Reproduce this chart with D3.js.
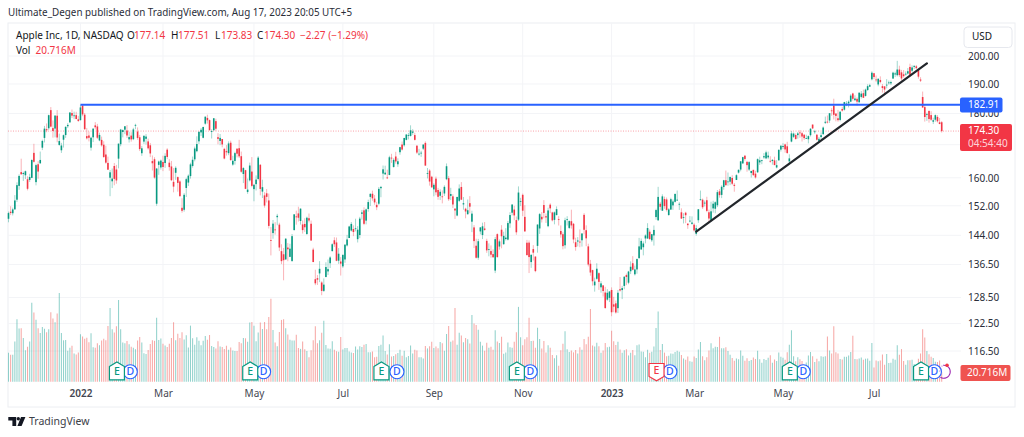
<!DOCTYPE html>
<html><head><meta charset="utf-8">
<style>html,body{margin:0;padding:0;background:#fff}svg{display:block}text{font-family:"Noto Sans",sans-serif}</style>
<script src="https://cdn.jsdelivr.net/npm/d3@7/dist/d3.min.js"></script></head><body>
<svg id="c" width="1024" height="437"></svg>
<script>
// One line per calendar month: Nov-2021 (from the 12th) ... Aug-2023 (to the 17th)
const opens=[
148.43,150.37,149.94,151.00,153.71,157.65,161.68,161.12,160.75,159.57,159.37,159.99,
167.48,158.74,164.02,164.29,169.08,172.13,174.91,175.21,181.12,175.25,175.11,179.28,169.93,168.28,171.56,173.04,175.85,177.09,180.16,179.33,179.47,178.09,
177.83,182.63,179.61,172.70,172.89,169.08,172.32,176.12,175.78,171.34,171.51,170.00,166.98,164.42,160.02,158.98,163.50,162.45,165.71,170.16,
174.01,174.75,174.48,171.68,172.86,171.73,176.05,174.14,172.33,167.37,170.97,171.85,171.03,169.82,164.98,165.54,152.58,163.84,163.06,
164.70,164.39,168.47,164.49,163.36,158.82,161.48,160.20,158.93,151.45,150.90,157.05,158.61,160.51,163.51,165.51,167.99,171.06,173.88,172.17,176.69,178.55,177.84,
174.03,174.57,177.50,172.36,171.16,171.78,168.71,168.02,167.39,170.62,163.92,165.02,168.76,168.91,166.46,161.12,162.25,155.91,159.25,161.84,
156.71,158.15,159.67,163.85,156.01,154.93,155.52,153.50,142.77,144.59,145.55,148.86,146.85,139.88,139.09,137.79,140.81,138.43,137.39,145.39,149.07,
149.90,147.83,146.90,147.03,144.35,148.58,147.08,140.28,132.87,133.13,134.29,132.08,130.07,133.42,134.79,136.82,139.90,142.70,142.13,137.46,137.25,
136.04,137.77,141.35,143.29,145.26,145.67,145.76,142.99,144.08,149.78,150.74,147.92,151.12,154.50,155.39,154.01,152.26,152.58,156.98,161.24,
161.01,160.10,160.84,166.01,163.21,166.37,164.02,167.68,170.06,169.82,171.52,172.78,172.77,173.75,173.03,169.69,167.08,167.32,168.78,170.57,161.15,162.13,160.31,
156.64,159.75,156.47,154.82,154.64,155.47,159.59,159.90,154.79,154.65,151.21,149.31,153.40,157.34,152.38,151.19,149.66,152.74,147.64,146.10,141.28,
138.21,145.03,144.07,145.81,142.54,140.42,139.90,139.13,134.99,144.31,141.07,145.49,141.69,143.02,142.87,147.19,150.09,150.96,148.07,148.20,153.16,
155.08,148.95,142.06,142.09,137.11,140.41,138.50,141.24,145.82,148.97,152.22,149.13,146.43,152.31,150.16,148.13,149.45,148.31,145.14,144.29,141.40,
148.21,145.96,147.77,147.07,142.19,142.36,142.34,142.70,149.50,145.35,141.11,136.69,135.11,131.39,132.98,134.35,130.92,131.38,129.67,127.99,128.41,
130.28,126.89,127.13,126.01,130.47,130.26,131.25,133.88,132.03,134.83,136.82,134.08,135.28,138.12,140.31,140.89,143.17,143.16,144.96,142.70,
143.97,148.90,148.03,152.57,150.64,153.88,153.78,149.46,150.95,152.12,153.11,153.51,152.35,150.20,148.87,150.09,147.11,147.71,147.05,
146.83,144.38,148.04,153.79,153.70,152.81,153.56,150.21,147.81,151.28,151.19,152.16,156.08,155.07,157.32,159.30,158.83,158.86,159.94,157.97,159.37,161.53,162.44,
164.27,166.60,164.74,162.43,161.42,162.35,161.22,161.63,164.59,165.09,166.10,165.80,166.09,165.05,165.00,165.19,163.06,165.19,168.49,
169.28,170.09,169.50,164.89,170.98,172.48,173.05,173.02,173.85,173.62,173.16,171.99,171.71,173.00,176.39,173.98,173.13,171.09,172.41,173.32,176.96,177.33,
177.70,181.03,182.63,179.97,178.44,177.90,181.50,181.27,182.80,183.37,183.96,186.73,184.41,184.90,183.74,185.55,186.83,185.89,187.93,189.08,191.63,
193.78,191.57,189.84,191.41,189.26,189.16,189.68,190.50,190.23,191.90,193.35,193.10,195.09,194.10,193.41,193.33,193.67,196.02,194.67,196.06,
196.24,195.04,191.57,185.52,182.13,179.69,180.87,179.48,177.32,177.97,178.88,177.13,177.14];
const highs=[
150.40,151.88,151.49,155.00,158.67,161.02,165.70,161.80,162.14,160.45,161.19,165.52,
170.30,164.20,164.96,167.88,171.58,175.96,176.75,179.63,182.13,177.74,179.50,181.14,173.47,170.58,173.20,175.86,176.85,180.42,181.33,180.63,180.57,179.23,
182.88,182.94,180.17,175.30,174.14,172.50,175.18,177.18,176.62,173.78,172.54,171.08,169.68,166.33,162.30,162.76,164.39,163.84,170.35,175.00,
174.84,175.88,176.24,174.10,173.95,175.35,176.65,175.48,173.08,169.58,172.95,173.34,171.91,170.54,166.69,166.15,162.85,165.12,165.42,
166.60,167.36,168.91,165.55,165.02,162.88,163.41,160.39,159.28,154.12,155.57,160.00,161.00,164.48,166.35,169.42,172.64,174.14,175.28,175.73,179.01,179.61,178.03,
174.88,178.49,178.30,173.63,173.36,171.78,169.03,169.87,171.04,171.27,166.60,167.82,168.88,171.53,167.87,163.17,162.34,159.79,164.52,166.20,
158.23,160.71,166.48,164.08,159.44,155.83,156.74,155.45,146.20,148.10,147.52,149.77,147.36,141.66,140.70,143.26,141.97,141.79,144.34,149.68,150.66,
151.74,151.27,147.97,148.57,149.00,149.87,147.95,140.76,135.20,133.89,137.34,132.39,133.08,137.06,137.76,138.59,141.91,143.49,143.42,140.67,138.37,
139.04,141.61,144.12,146.55,147.55,146.64,148.45,146.45,148.95,150.86,151.57,151.23,153.72,155.57,156.28,155.04,153.09,157.33,157.64,163.63,
163.59,162.41,166.59,167.19,165.85,167.81,165.82,169.34,170.99,172.17,173.39,173.71,176.15,174.90,173.74,169.86,168.71,168.11,170.14,171.05,162.90,162.56,160.58,
158.42,160.36,157.09,156.67,156.36,157.82,164.26,160.54,157.10,155.24,151.35,154.56,158.08,158.74,154.47,151.47,153.77,154.72,150.64,146.72,143.10,
143.07,146.22,147.38,147.54,143.10,141.89,141.35,140.36,143.59,144.52,142.90,146.70,144.95,145.89,147.85,150.23,152.49,151.99,149.05,157.50,154.24,
155.45,152.17,142.80,142.67,139.15,141.43,138.55,146.87,150.01,150.28,153.59,149.87,151.48,152.70,150.37,150.42,151.83,149.13,146.64,144.81,148.72,
149.13,148.00,150.92,147.30,143.37,143.52,145.57,144.50,149.97,146.66,141.80,137.65,135.20,133.25,136.81,134.56,132.42,131.41,131.03,130.48,129.95,
130.90,128.66,127.77,130.29,133.41,131.26,133.51,134.26,134.92,137.29,138.61,136.25,138.02,143.32,143.16,142.43,144.25,147.23,145.55,144.34,
146.61,151.18,157.38,153.10,155.23,154.58,154.33,151.34,154.26,153.77,155.50,156.33,153.00,151.30,149.95,150.34,147.19,149.17,149.08,
147.23,146.71,151.11,156.30,154.03,153.47,154.54,150.94,153.14,153.40,153.25,156.46,156.74,157.82,159.40,162.14,161.55,160.34,160.77,158.49,161.05,162.47,165.00,
166.29,166.84,165.05,164.96,162.03,162.36,162.06,165.80,166.32,165.39,167.41,168.16,167.87,166.45,165.60,166.31,165.28,168.56,169.85,
170.45,170.35,170.92,167.04,174.30,173.85,173.54,174.03,174.59,174.06,173.21,173.14,172.93,175.24,176.39,174.71,173.38,172.42,173.90,175.77,178.99,179.35,
180.12,181.78,184.95,180.12,181.21,180.84,182.23,183.89,184.15,184.39,186.52,186.99,186.10,185.41,187.05,187.56,188.05,188.39,189.90,190.07,194.48,
193.88,192.98,192.02,192.67,189.99,189.30,191.70,191.19,191.18,194.32,194.33,198.23,196.47,194.97,194.91,194.44,195.64,197.20,196.63,196.49,
196.73,195.18,192.37,187.38,183.13,180.27,180.93,180.75,178.62,179.69,179.48,178.54,177.51];
const lows=[
147.48,149.43,149.34,150.99,153.05,156.53,161.00,159.06,159.64,156.36,158.79,159.92,
164.53,157.80,159.72,164.28,168.34,170.70,173.92,174.69,175.53,172.21,172.31,170.75,169.69,167.46,169.12,172.15,175.27,177.07,178.53,178.14,178.09,177.26,
177.71,179.12,174.64,171.64,171.03,168.17,170.82,174.82,171.79,171.09,169.41,165.94,164.18,162.30,154.70,157.02,157.82,158.28,162.80,169.51,
172.31,173.33,172.12,170.68,170.95,171.43,174.90,171.55,168.04,166.56,170.25,170.05,168.47,166.19,162.15,159.75,152.00,160.87,162.43,
161.97,162.95,165.55,162.10,159.04,155.80,159.41,155.98,154.50,150.10,150.38,154.46,157.63,159.76,163.01,164.91,167.65,170.21,172.75,172.00,176.34,176.70,174.40,
171.94,174.44,174.42,170.13,169.85,169.20,165.50,166.64,166.77,165.04,163.57,163.91,166.10,165.91,161.50,158.46,156.72,155.38,158.93,157.25,
153.27,156.32,159.26,154.95,154.18,151.49,152.93,145.81,138.80,143.11,144.18,146.68,139.90,136.60,132.61,137.65,137.33,138.34,137.14,145.26,146.84,
147.68,146.86,144.46,144.90,144.10,147.46,142.53,137.06,131.44,131.48,132.16,129.04,129.81,133.32,133.91,135.63,139.77,140.97,137.32,136.67,133.77,
135.66,136.93,141.08,143.28,145.00,143.78,145.05,142.12,143.25,148.20,146.70,146.91,150.37,151.94,153.41,152.28,150.80,152.16,154.41,159.50,
160.89,159.63,160.75,164.43,163.00,164.20,163.25,166.90,168.19,169.40,171.35,171.66,172.57,173.12,171.31,167.14,166.65,166.25,168.35,163.56,159.82,157.72,157.14,
154.67,154.97,153.69,153.61,152.68,154.75,159.30,153.37,153.61,151.38,148.37,149.10,153.08,153.60,150.91,148.56,149.64,149.95,144.84,140.68,138.00,
137.69,144.26,143.01,145.22,139.45,138.57,138.22,138.16,134.37,138.19,140.27,140.61,141.50,142.65,142.65,146.00,149.36,148.04,144.13,147.82,151.92,
149.13,145.00,138.75,134.38,135.67,137.49,134.59,139.50,144.37,147.43,148.56,147.29,146.15,149.97,147.72,146.93,149.34,146.61,143.38,140.35,140.55,
146.61,145.65,145.77,141.92,140.00,141.10,140.90,141.06,144.24,141.16,136.03,133.73,131.32,129.89,132.75,130.30,129.64,128.72,125.87,127.73,127.43,
124.17,125.08,124.76,124.89,129.89,128.12,130.46,131.44,131.66,134.13,135.03,133.77,134.22,137.90,140.30,138.81,141.90,143.08,142.85,142.28,
141.32,148.17,147.83,150.78,150.64,151.17,150.42,149.22,150.92,150.86,152.88,153.35,150.85,148.41,147.16,147.24,145.72,147.45,146.83,
145.01,143.90,147.33,153.46,151.13,151.83,150.23,147.61,147.70,150.10,149.92,151.64,154.28,154.15,156.54,157.81,157.68,157.85,157.87,155.98,159.35,161.27,161.91,
164.22,165.11,161.80,162.00,160.08,160.51,159.78,161.42,163.82,164.03,165.65,165.54,165.56,164.49,163.89,163.73,162.80,165.19,167.88,
168.64,167.54,167.16,164.31,170.76,172.11,171.60,171.90,172.17,171.00,171.47,171.80,170.42,172.58,174.94,173.45,171.28,170.52,171.69,173.11,176.57,176.76,
176.93,179.26,178.04,177.43,177.32,177.46,180.63,180.97,182.44,182.02,183.78,184.27,184.41,182.59,183.67,185.01,185.23,185.67,187.60,188.94,191.26,
191.76,190.62,189.20,190.24,187.04,186.60,188.47,189.78,189.63,191.81,192.42,192.65,192.50,191.23,192.25,192.92,193.32,192.55,194.14,195.26,
195.28,191.85,190.69,181.92,177.35,177.58,177.01,177.60,176.55,177.31,177.05,176.50,173.83];
const closes=[
149.99,150.00,151.00,153.49,157.87,160.55,161.02,161.41,161.94,156.81,160.24,165.30,
164.77,163.76,161.84,165.32,171.18,175.08,174.56,179.45,175.74,174.33,179.30,172.26,171.14,169.75,172.99,175.64,176.28,180.33,179.29,179.38,178.20,177.57,
182.01,179.70,174.92,172.00,172.17,172.19,175.08,175.53,172.19,173.07,169.80,166.23,164.51,162.41,161.62,159.78,159.69,159.22,170.33,174.78,
174.61,175.84,172.90,172.39,171.66,174.83,176.28,172.12,168.64,168.88,172.79,172.55,168.88,167.30,164.32,160.07,162.74,164.85,165.12,
163.20,166.56,166.23,163.17,159.30,157.44,162.95,158.52,154.73,150.62,155.09,159.59,160.62,163.98,165.38,168.82,170.21,174.07,174.72,175.60,178.96,177.77,174.61,
174.31,178.44,175.06,171.83,172.14,170.09,165.75,167.66,170.40,165.29,165.07,167.40,167.23,166.42,161.79,162.88,156.80,156.57,163.64,157.65,
157.96,159.48,166.02,156.77,157.28,152.06,154.51,146.50,142.56,147.11,145.54,149.24,140.82,137.35,137.59,143.11,140.36,140.52,143.78,149.64,148.84,
148.71,151.21,145.38,146.14,148.71,147.96,142.64,137.13,131.88,132.76,135.43,130.06,131.56,135.87,135.35,138.27,141.66,141.66,137.44,139.23,136.72,
138.93,141.56,142.92,146.35,147.04,144.87,145.86,145.49,148.47,150.17,147.07,151.00,153.04,155.35,154.09,152.95,151.60,156.79,157.35,162.51,
161.51,160.01,166.13,165.81,165.35,164.87,164.92,169.24,168.49,172.10,173.19,173.03,174.55,174.15,171.52,167.57,167.23,167.53,170.03,163.62,161.38,158.91,157.22,
157.96,155.81,154.53,155.96,154.46,157.37,163.43,153.84,155.31,152.37,150.70,154.48,156.90,153.72,152.74,150.43,150.77,151.76,149.84,142.48,138.20,
142.45,146.10,146.40,145.43,140.09,140.42,138.98,138.34,142.99,138.38,142.41,143.75,143.86,143.39,147.27,149.45,152.34,149.35,144.80,155.74,153.34,
150.65,145.03,138.88,138.38,138.92,139.50,134.87,146.87,149.70,148.28,150.04,148.79,150.72,151.29,148.01,150.18,151.07,148.11,144.22,141.17,148.03,
148.31,147.81,146.63,142.91,140.94,142.65,142.16,144.49,145.47,143.21,136.50,134.51,132.37,132.30,135.45,132.23,131.86,130.03,126.04,129.61,129.93,
125.07,126.36,125.02,129.62,130.15,130.73,133.49,133.41,134.76,135.94,135.21,135.27,137.87,141.11,142.53,141.86,143.96,145.93,143.00,144.29,
145.43,150.82,154.50,151.73,154.65,151.92,150.87,151.01,153.85,153.20,155.33,153.71,152.55,148.48,148.91,149.40,146.71,147.92,147.41,
145.31,145.91,151.03,153.83,151.60,152.87,150.59,148.50,150.47,152.59,152.99,155.85,155.00,157.40,159.28,157.83,158.93,160.25,158.28,157.65,160.77,162.36,164.90,
166.17,165.63,163.76,164.66,162.03,160.80,160.10,165.56,165.21,165.23,166.47,167.63,166.65,165.02,165.33,163.77,163.76,168.41,169.68,
169.59,168.54,167.45,165.79,173.57,173.50,171.77,173.56,173.75,172.57,172.07,172.07,172.69,175.05,175.16,174.20,171.56,171.84,172.99,175.43,177.30,177.25,
180.09,180.95,179.58,179.21,177.82,180.57,180.96,183.79,183.31,183.95,186.01,184.92,185.01,183.96,187.00,186.68,185.27,188.06,189.25,189.59,193.97,
192.46,191.33,191.81,190.68,188.61,188.08,189.77,190.54,190.69,193.99,193.73,195.10,193.13,191.94,192.75,193.62,194.50,193.22,195.83,196.45,
195.61,192.58,191.17,181.99,178.85,179.80,178.19,177.97,177.79,179.46,177.45,176.57,174.30];
const volumes=[
63.8,59.2,59.3,88.8,137.8,117.3,117.5,96.0,69.5,76.9,88.7,174.0,
152.4,136.7,118.0,107.5,120.4,116.9,108.9,115.4,153.2,139.4,131.1,150.2,195.4,107.5,91.2,92.1,68.4,74.9,79.1,62.3,59.8,64.1,
104.5,99.3,94.5,96.9,86.7,106.8,76.1,74.8,84.5,80.4,90.9,94.8,91.4,122.8,162.3,115.8,108.3,121.9,179.9,115.5,
86.2,84.9,89.4,82.5,77.2,74.8,71.3,90.9,98.7,86.2,62.5,61.2,69.6,82.8,91.2,90.0,141.1,91.9,95.1,
83.5,79.7,76.7,83.8,96.4,131.1,91.5,105.6,96.0,108.7,92.9,102.3,75.6,123.5,95.8,81.5,98.1,90.1,80.5,90.4,100.6,92.6,103.0,
78.8,76.5,73.4,89.1,77.6,76.6,72.2,79.3,70.6,75.3,69.0,67.7,67.9,87.2,84.9,96.0,95.6,88.1,130.2,131.7,
123.1,88.9,108.3,130.5,116.1,131.6,115.4,142.7,182.6,113.8,86.6,78.3,109.7,136.1,137.4,117.7,104.1,92.5,90.6,90.9,103.7,
74.3,72.3,88.6,71.6,67.8,53.9,69.5,91.4,122.2,84.8,91.5,108.1,134.5,81.0,73.4,72.4,89.1,70.2,67.1,66.2,98.7,
71.1,74.0,74.2,66.3,64.5,63.1,77.6,71.2,78.1,76.3,81.4,82.9,64.8,65.1,66.7,53.6,55.1,78.6,81.4,101.8,
67.8,59.9,82.5,55.5,56.7,60.4,63.1,70.2,57.1,68.0,54.1,56.4,79.5,62.3,70.3,69.0,54.1,53.8,51.2,78.9,73.3,77.9,87.9,
74.2,77.6,73.7,87.4,84.9,68.0,104.9,122.7,87.9,90.5,162.3,81.5,107.7,101.7,86.7,96.0,93.3,84.4,146.7,128.1,124.9,
114.3,87.8,79.5,68.4,85.9,74.9,77.0,70.4,113.2,88.6,85.3,99.1,61.8,64.5,86.5,75.9,74.7,88.2,109.2,164.8,97.9,
80.4,93.6,97.9,140.7,89.9,90.0,74.9,118.9,93.9,73.4,89.9,64.2,80.4,74.8,58.7,51.8,58.3,35.2,69.2,83.8,111.4,
71.3,65.4,68.8,64.7,69.7,62.1,76.1,70.5,93.9,82.3,98.9,160.2,79.6,77.4,85.9,77.9,63.8,69.0,85.4,75.7,77.0,
112.1,89.1,80.8,87.8,70.8,63.9,69.5,71.4,57.8,63.6,69.7,58.3,80.2,81.8,66.4,65.8,54.1,70.6,64.0,65.9,
77.7,118.3,154.4,69.9,83.3,64.1,56.0,57.4,62.2,61.7,65.7,68.2,66.0,58.9,51.0,48.4,55.5,44.9,44.2,
55.5,52.2,70.7,87.6,56.2,47.2,53.8,68.6,84.5,73.7,77.2,76.3,98.9,73.6,73.9,75.7,67.6,59.2,52.4,45.9,51.3,49.5,68.7,
56.9,46.3,51.5,45.4,47.7,53.1,50.1,68.4,49.4,41.5,49.9,47.7,52.5,58.3,41.9,48.7,45.5,64.6,55.2,
52.5,48.4,65.1,81.2,113.3,55.9,45.3,53.7,49.5,45.5,37.3,42.1,57.9,65.5,55.8,43.6,50.7,45.1,56.1,54.8,55.9,99.6,
68.9,61.9,121.9,64.8,61.9,50.2,48.9,54.8,54.9,57.5,65.4,101.2,49.8,49.5,51.2,53.1,48.1,50.7,51.2,46.3,85.1,
31.5,46.9,45.1,46.8,59.9,37.3,60.8,41.3,41.6,50.5,48.4,80.5,59.6,71.9,45.4,37.3,47.5,47.5,48.3,38.8,
35.2,50.4,62.0,115.8,97.6,67.8,60.4,54.7,52.0,43.7,43.5,46.9,20.716];

const priceGrid=[200,190,180,170,160,152,144,136.5,128.5,122.5,116.5];
const priceLabels=[200,190,180,160,152,144,136.5,128.5,122.5,116.5];
const monthIndex=[34,73,116,158,201,243,285,324,366,409];
const monthLabels=["2022","Mar","May","Jul","Sep","Nov","2023","Mar","May","Jul"];
const earningsIndex=[51,114,176,240,306,369,431];
const earningsBeat=[1,1,1,1,0,1,1];
const dividendIndex=[57,120,183,246,312,375,437];
const resistancePrice=182.91, resistanceStart=34;
const trendIndex=[325,434], trendPrice=[145.0,197.3];
const lastPrice=174.30, countdown="04:54:40", lastVol="20.716M";

const TEAL="#089981",RED="#f23645",BLUE="#2962ff";
const svg=d3.select("#c");
const x=d3.scaleLinear().domain([0,441]).range([8.5,941.7]);
const y=d3.scaleLog().domain([116.5,200]).range([351,56]);
const v=d3.scaleLinear().domain([0,195.4]).range([381.7,293]);
const idx=d3.range(closes.length);
const up=i=>closes[i]>=opens[i];
const pL=8,pR=961,pT=23,pB=382,fR=1015,fB=407;

// frame
svg.append("rect").attr("x",8).attr("y",23).attr("width",fR-8).attr("height",fB-23).attr("fill","none").attr("stroke","#eceef2").attr("stroke-width",1);
// grid
svg.append("g").selectAll("line").data(priceGrid).join("line").attr("x1",pL).attr("x2",pR).attr("y1",d=>y(d)).attr("y2",d=>y(d)).attr("stroke","#f3f4f7");
svg.append("g").selectAll("line").data(monthIndex).join("line").attr("x1",d=>x(d)).attr("x2",d=>x(d)).attr("y1",pT).attr("y2",pB).attr("stroke","#f3f4f7");
// volume
svg.append("g").selectAll("line").data(idx).join("line")
 .attr("x1",i=>x(i)).attr("x2",i=>x(i)).attr("y1",i=>v(volumes[i])).attr("y2",v(0))
 .attr("stroke",i=>up(i)?"#26a69a":"#ef5350").attr("stroke-opacity",.5).attr("stroke-width",1.05);
// last price dotted
svg.append("line").attr("x1",pL).attr("x2",pR).attr("y1",y(lastPrice)).attr("y2",y(lastPrice)).attr("stroke",RED).attr("stroke-opacity",.6).attr("stroke-dasharray","1 1.5").attr("stroke-width",.8);
// candles
svg.append("g").selectAll("line").data(idx).join("line")
 .attr("x1",i=>x(i)).attr("x2",i=>x(i)).attr("y1",i=>y(highs[i])).attr("y2",i=>y(lows[i]))
 .attr("stroke",i=>up(i)?TEAL:RED).attr("stroke-width",.55).attr("stroke-opacity",.7);
svg.append("g").selectAll("rect").data(idx).join("rect")
 .attr("x",i=>x(i)-.8).attr("width",1.6)
 .attr("y",i=>Math.min(y(opens[i]),y(closes[i])))
 .attr("height",i=>Math.max(.8,Math.abs(y(opens[i])-y(closes[i]))))
 .attr("fill",i=>up(i)?TEAL:RED);
// resistance, trendline
svg.append("line").attr("x1",x(resistanceStart)).attr("x2",pR).attr("y1",y(resistancePrice)).attr("y2",y(resistancePrice)).attr("stroke",BLUE).attr("stroke-width",2);
svg.append("line").attr("x1",x(trendIndex[0])).attr("x2",x(trendIndex[1])).attr("y1",y(trendPrice[0])).attr("y2",y(trendPrice[1])).attr("stroke","#22262b").attr("stroke-width",2.2).attr("stroke-linecap","round");

// axes
const ya=svg.append("g").attr("transform",`translate(968,0)`).call(d3.axisRight(y).tickValues(priceLabels).tickFormat(d3.format(".2f")).tickSize(0).tickPadding(0));
ya.select(".domain").remove();
ya.selectAll("text").attr("font-family",'"Noto Sans"').attr("font-size",10).attr("fill","#2a2e39");
const xa=svg.append("g").attr("transform",`translate(0,389.5)`).call(d3.axisBottom(x).tickValues(monthIndex).tickFormat((d,i)=>monthLabels[i]).tickSize(0).tickPadding(0));
xa.select(".domain").remove();
xa.selectAll("text").attr("font-family",'"Noto Sans"').attr("font-size",10).attr("fill","#434651").attr("font-weight",(d,i)=>/^20/.test(monthLabels[i])?600:400);

// text helper
function T(s,px,py,o={}){return svg.append("text").attr("x",px).attr("y",py).text(s).attr("font-size",o.size||10).attr("fill",o.fill||"#131722").attr("font-weight",o.w||400).attr("text-anchor",o.a||"start").attr("dominant-baseline","middle");}
T("Ultimate_Degen published on TradingView.com, Aug 17, 2023 20:05 UTC+5",8,13,{fill:"#2a2e39",size:9.85});
T("Apple Inc, 1D, NASDAQ",16,36);
const legend=[["O",127,"177.14"],["H",171,"177.51"],["L",215,"173.83"],["C",257,"174.30"]];
legend.forEach(([k,px,val])=>{T(k,px,36);T(val,px+(k==="L"?6:7),36,{fill:RED});});
T("\u22122.27 (\u22121.29%)",300,36,{fill:RED});
T("Vol",16,51.5);T(lastVol,35.5,51.5,{fill:RED});

// USD button
svg.append("rect").attr("x",964).attr("y",27).attr("width",48).attr("height",20.5).attr("rx",3.5).attr("fill","#fff").attr("stroke","#e6e8ee");
T("USD",972,37.5);

// price labels
svg.append("rect").attr("x",960).attr("y",97.5).attr("width",42.5).attr("height",15).attr("rx",2).attr("fill",BLUE);
T("182.91",968,105.3,{fill:"#fff"});
svg.append("rect").attr("x",960).attr("y",124).attr("width",52).attr("height",27).attr("rx",2).attr("fill",RED);
T(lastPrice.toFixed(2),968,131.5,{fill:"#fff"});
T(countdown,968,144,{fill:"#fff",}).attr("fill-opacity",.8);
svg.append("rect").attr("x",960.5).attr("y",365).attr("width",50).attr("height",16).attr("rx",2).attr("fill","#ef5350");
T(lastVol,967,373.3,{fill:"#fff"});

// dividend markers
dividendIndex.forEach(d=>{const g=svg.append("g").attr("transform",`translate(${x(d)+1.2},371.7)`);
 g.append("circle").attr("r",7).attr("fill","#fff").attr("stroke",BLUE).attr("stroke-width",1.1);
 g.append("text").text("D").attr("text-anchor","middle").attr("dy","0.36em").attr("font-size",10.5).attr("fill",BLUE).attr("font-weight",500);});
// earnings markers
earningsIndex.forEach((d,i)=>{const beat=earningsBeat[i],c=beat?TEAL:RED;const g=svg.append("g").attr("transform",`translate(${x(d)+.5},0)`);
 const path=beat?"M-7.5,366.5L0,362L7.5,366.5V379.8H-7.5Z":"M-7.5,363.5H7.5V376.5L0,380.8L-7.5,376.5Z";
 g.append("path").attr("d",path).attr("fill","#fff").attr("stroke",c).attr("stroke-width",1.2);
 g.append("text").text("E").attr("y",beat?372.5:371).attr("text-anchor","middle").attr("dominant-baseline","middle").attr("font-size",10.5).attr("fill",c).attr("font-weight",500);});
// upcoming marker
svg.append("path").attr("d",d3.arc()({innerRadius:6,outerRadius:7,startAngle:-.1,endAngle:3.7})).attr("transform","translate(943.8,371.7)").attr("fill","#9c27b0");
svg.append("circle").attr("cx",947).attr("cy",365.3).attr("r",1.8).attr("fill",RED);
[[940,368],[942,366],[939.8,371]].forEach(p=>svg.append("circle").attr("cx",p[0]).attr("cy",p[1]).attr("r",.6).attr("fill","#b05ac2"));

// TradingView logo
const logo=svg.append("g").attr("fill","#131722");
logo.append("path").attr("d","M8.3,417H16.2V426H12.4V420.6H8.3Z");
logo.append("circle").attr("cx",18.3).attr("cy",418.7).attr("r",1.7);
logo.append("path").attr("d","M21,417H25.4L21.6,426H17.4Z");
T("TradingView",29,422.5,{size:10.5,fill:"#3c4048"});
</script></body></html>
